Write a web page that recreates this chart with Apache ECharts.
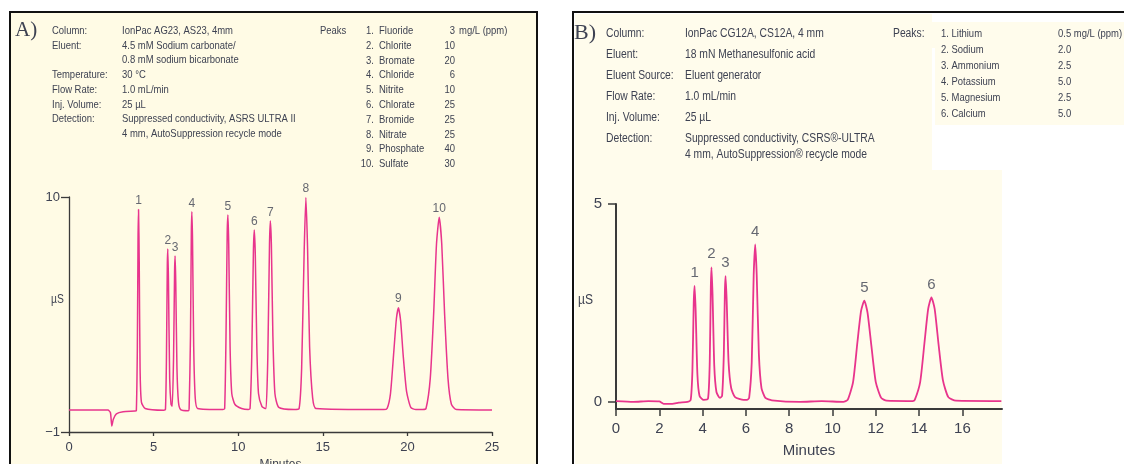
<!DOCTYPE html>
<html>
<head>
<meta charset="utf-8">
<script src="https://cdn.jsdelivr.net/npm/echarts@6/dist/echarts.min.js"></script>
<style>
html, body { margin: 0; padding: 0; background: #fff; }
#main { width: 1124px; height: 464px; }
</style>
</head>
<body>
<div id="main"></div>
<script>
// A) anions, IonPac AS23 - trace, [minutes, µS]
var traceA = [
  [0, 0.03], [2.3, 0.03], [2.45, -0.1], [2.53, -0.72], [2.62, -0.4], [2.8, -0.15], [3.2, -0.05], [3.9, -0.02],
  [3.98, 0], [4.04, 3.0], [4.08, 8.0], [4.11, 9.42], [4.15, 7.0], [4.2, 2.0], [4.28, 0.4], [4.5, 0.1], [5.6, 0.02],
  [5.7, 0.05], [5.76, 2.5], [5.81, 6.8], [5.84, 7.57], [5.88, 6.0], [5.95, 1.5], [6.03, 0.3],
  [6.1, 0.2], [6.18, 2.5], [6.24, 6.5], [6.27, 7.24], [6.31, 6.0], [6.38, 2.0], [6.47, 0.4], [6.6, 0.05], [7.05, 0],
  [7.1, 0.1], [7.18, 3.5], [7.23, 8.3], [7.26, 9.31], [7.3, 8.0], [7.37, 3.0], [7.46, 0.6], [7.6, 0.1], [9.1, 0.05],
  [9.2, 0.1], [9.28, 3.5], [9.35, 8.3], [9.39, 9.16], [9.44, 7.8], [9.52, 3.0], [9.62, 0.8], [9.8, 0.3], [10.2, 0.1], [10.6, 0.05],
  [10.7, 0.1], [10.8, 2.5], [10.9, 7.5], [10.95, 8.46], [11.01, 7.3], [11.1, 3.0], [11.2, 0.8], [11.4, 0.2], [11.6, 0.1],
  [11.65, 0.1], [11.75, 2.5], [11.85, 7.8], [11.9, 8.88], [11.96, 7.8], [12.05, 3.5], [12.17, 0.8], [12.4, 0.15], [13.3, 0.05],
  [13.6, 0.1], [13.75, 2.0], [13.9, 7.5], [14.0, 9.98], [14.1, 7.6], [14.22, 3.0], [14.4, 0.6], [14.6, 0.1], [18.6, 0.05],
  [18.8, 0.1], [19.0, 0.8], [19.2, 2.8], [19.35, 4.3], [19.47, 4.82], [19.6, 4.2], [19.75, 2.6], [19.95, 0.9], [20.2, 0.15], [20.5, 0.05], [20.9, 0.05],
  [21.1, 0.1], [21.35, 1.5], [21.55, 4.5], [21.72, 7.8], [21.88, 9.05], [22.03, 7.8], [22.2, 4.5], [22.4, 1.5], [22.6, 0.3], [22.9, 0.05], [25, 0.03]
];
var peakTimeA = [4.11, 5.84, 6.27, 7.26, 9.39, 10.95, 11.9, 14.0, 19.47, 21.88];
var peakHeightA = [9.42, 7.57, 7.24, 9.31, 9.16, 8.46, 8.88, 9.98, 4.82, 9.05];
var peakNameA = ['1', '2', '3', '4', '5', '6', '7', '8', '9', '10'];
var xTicksA = [0, 5, 10, 15, 20, 25];
var yTicksA = [-1, 10];

// B) cations, IonPac CS12A
var traceB = [
  [0, 0.02], [0.8, 0], [1.5, 0.02], [2.0, 0.01], [2.2, -0.05], [2.6, -0.05], [2.9, -0.02], [3.3, 0],
  [3.45, 0.05], [3.53, 0.8], [3.59, 2.5], [3.63, 2.93], [3.68, 2.3], [3.76, 0.7], [3.86, 0.15], [4.05, 0.05],
  [4.25, 0.08], [4.33, 1.0], [4.38, 2.9], [4.41, 3.4], [4.46, 2.7], [4.54, 0.9], [4.64, 0.25], [4.8, 0.1],
  [4.9, 0.15], [4.98, 1.2], [5.03, 2.8], [5.06, 3.18], [5.11, 2.6], [5.2, 1.0], [5.32, 0.35], [5.5, 0.12], [5.9, 0.05], [6.05, 0.05],
  [6.15, 0.1], [6.27, 1.0], [6.36, 3.2], [6.43, 3.98], [6.5, 3.2], [6.6, 1.2], [6.72, 0.35], [6.9, 0.1], [7.2, 0.04],
  [8.5, 0], [9.5, 0.02], [10.5, 0],
  [10.7, 0.05], [10.95, 0.5], [11.15, 1.5], [11.32, 2.3], [11.47, 2.56], [11.62, 2.25], [11.8, 1.4], [12.0, 0.5], [12.25, 0.1], [12.5, 0.03], [13.7, 0.02],
  [13.8, 0.05], [14.05, 0.5], [14.25, 1.5], [14.42, 2.35], [14.57, 2.64], [14.72, 2.35], [14.9, 1.45], [15.1, 0.55], [15.35, 0.12], [15.7, 0.03], [17.8, 0.02]
];
var peakTimeB = [3.63, 4.41, 5.06, 6.43, 11.47, 14.57];
var peakHeightB = [2.93, 3.4, 3.18, 3.98, 2.56, 2.64];
var peakNameB = ['1', '2', '3', '4', '5', '6'];
var xTicksB = [0, 2, 4, 6, 8, 10, 12, 14, 16];
var yTicksB = [0, 5];

// header text
var infoA = [
  ['Column:', 'IonPac AG23, AS23, 4mm'],
  ['Eluent:', '4.5 mM Sodium carbonate/'],
  ['', '0.8 mM sodium bicarbonate'],
  ['Temperature:', '30 °C'],
  ['Flow Rate:', '1.0 mL/min'],
  ['Inj. Volume:', '25 µL'],
  ['Detection:', 'Suppressed conductivity, ASRS ULTRA II'],
  ['', '4 mm, AutoSuppression recycle mode']
];
var peakListA = [
  ['1.', 'Fluoride', '3'], ['2.', 'Chlorite', '10'], ['3.', 'Bromate', '20'], ['4.', 'Chloride', '6'],
  ['5.', 'Nitrite', '10'], ['6.', 'Chlorate', '25'], ['7.', 'Bromide', '25'], ['8.', 'Nitrate', '25'],
  ['9.', 'Phosphate', '40'], ['10.', 'Sulfate', '30']
];
var infoB = [
  ['Column:', 'IonPac CG12A, CS12A, 4 mm'],
  ['Eluent:', '18 mN Methanesulfonic acid'],
  ['Eluent Source:', 'Eluent generator'],
  ['Flow Rate:', '1.0 mL/min'],
  ['Inj. Volume:', '25 µL'],
  ['Detection:', 'Suppressed conductivity, CSRS®-ULTRA'],
  ['', '4 mm, AutoSuppression® recycle mode']
];
var peakListB = [
  ['1. Lithium', '0.5 mg/L (ppm)'], ['2. Sodium', '2.0'], ['3. Ammonium', '2.5'],
  ['4. Potassium', '5.0'], ['5. Magnesium', '2.5'], ['6. Calcium', '5.0']
];

var FONT = '"Liberation Sans", Arial, sans-serif';
var SERIF = '"Liberation Serif", "DejaVu Serif", serif';
var TEXT = '#3e4252';
var AXIS = '#3a3a3a';
var PINK = '#e8348c';

// condensed look: squeeze the sans text horizontally
function txt(x, y, s, size, align, family, sx) {
  return {
    type: 'text', x: x, y: y, z: 10, scaleX: sx || 0.86,
    style: { text: s, fontSize: size, fontFamily: family || FONT, fill: TEXT, align: align || 'left', verticalAlign: 'middle' }
  };
}

var els = [
  { type: 'rect', z: -100, shape: { x: 10, y: 12, width: 527, height: 470 }, style: { fill: '#fffbe5', stroke: '#111', lineWidth: 2 } },
  { type: 'rect', z: -100, shape: { x: 573, y: 12, width: 600, height: 470 }, style: { fill: '#fff', stroke: '#111', lineWidth: 2 } },
  { type: 'rect', z: -99, shape: { x: 575, y: 14, width: 357, height: 160 }, style: { fill: '#fffcec' } },
  { type: 'rect', z: -99, shape: { x: 575, y: 170, width: 427, height: 300 }, style: { fill: '#fffcec' } },
  { type: 'rect', z: -99, shape: { x: 888, y: 22, width: 240, height: 26 }, style: { fill: '#fffcec' } },
  { type: 'rect', z: -99, shape: { x: 935, y: 22, width: 190, height: 103 }, style: { fill: '#fffcec' } },
  txt(15, 30, 'A)', 21, 'left', SERIF, 1),
  txt(574, 33, 'B)', 22, 'left', SERIF, 1),
  txt(320, 31, 'Peaks', 11),
  txt(893, 34, 'Peaks:', 12),
  txt(51, 300, 'µS', 12),
  txt(578, 300, 'µS', 14)
];
infoA.forEach(function (r, i) {
  var y = 31 + i * 14.7;
  if (r[0]) els.push(txt(52, y, r[0], 11));
  els.push(txt(122, y, r[1], 11));
});
peakListA.forEach(function (r, i) {
  var y = 31 + i * 14.8;
  els.push(txt(374, y, r[0], 11, 'right'));
  els.push(txt(379, y, r[1], 11));
  els.push(txt(455, y, r[2], 11, 'right'));
});
els.push(txt(459, 31, 'mg/L (ppm)', 11));
var rowB = [34, 55, 76, 97, 118, 139, 155];
infoB.forEach(function (r, i) {
  if (r[0]) els.push(txt(606, rowB[i], r[0], 12));
  els.push(txt(685, rowB[i], r[1], 12));
});
peakListB.forEach(function (r, i) {
  var y = 34 + i * 15.9;
  els.push(txt(941, y, r[0], 11));
  els.push(txt(1058, y, r[1], 11));
});

function labelSeries(times, heights, names, xi, size, dist) {
  return {
    type: 'scatter', xAxisIndex: xi, yAxisIndex: xi, symbolSize: 1, silent: true, z: 4,
    itemStyle: { color: 'rgba(0,0,0,0)' },
    label: { show: true, position: 'top', distance: dist, formatter: '{b}', fontSize: size, fontFamily: FONT, color: TEXT },
    data: times.map(function (t, i) { return { name: names[i], value: [t, heights[i]] }; })
  };
}

function fmt(v) { return v < 0 ? '\u2212' + Math.abs(v) : String(v); }

var chart = echarts.init(document.getElementById('main'));
chart.setOption({
  animation: false,
  graphic: { elements: els },
  grid: [
    { left: 69, top: 197, width: 423, height: 235, outerBoundsMode: 'none' },
    { left: 616, top: 204, width: 386, height: 205, outerBoundsMode: 'none' }
  ],
  xAxis: [
    {
      gridIndex: 0, type: 'value', min: 0, max: 25, interval: 5,
      axisLine: { onZero: false, lineStyle: { color: AXIS, width: 1.3 } },
      axisTick: { length: 4, lineStyle: { color: AXIS, width: 1.3 } },
      axisLabel: { margin: 9, fontSize: 13, fontFamily: FONT, color: TEXT, customValues: xTicksA },
      splitLine: { show: false },
      name: 'Minutes', nameLocation: 'middle', nameGap: 21,
      nameTextStyle: { fontSize: 12, fontFamily: FONT, color: TEXT }
    },
    {
      gridIndex: 1, type: 'value', min: 0, max: 17.83,
      axisLine: { onZero: false, lineStyle: { color: AXIS, width: 2 } },
      axisTick: { length: 7, customValues: xTicksB, lineStyle: { color: AXIS, width: 1.5 } },
      axisLabel: { margin: 12, fontSize: 15, fontFamily: FONT, color: TEXT, customValues: xTicksB },
      splitLine: { show: false },
      name: 'Minutes', nameLocation: 'middle', nameGap: 34,
      nameTextStyle: { fontSize: 15, fontFamily: FONT, color: TEXT }
    }
  ],
  yAxis: [
    {
      gridIndex: 0, type: 'value', min: -1, max: 10,
      axisLine: { show: true, onZero: false, lineStyle: { color: AXIS, width: 1.3 } },
      axisTick: { show: true, length: 8, customValues: yTicksA, lineStyle: { color: AXIS, width: 1.3 } },
      axisLabel: { margin: 9, fontSize: 13, fontFamily: FONT, color: TEXT, customValues: yTicksA, formatter: fmt },
      splitLine: { show: false }
    },
    {
      gridIndex: 1, type: 'value', min: -0.18, max: 5,
      axisLine: { show: true, onZero: false, lineStyle: { color: AXIS, width: 2 } },
      axisTick: { show: true, length: 8, customValues: yTicksB, lineStyle: { color: AXIS, width: 1.5 } },
      axisLabel: { margin: 14, fontSize: 15, fontFamily: FONT, color: TEXT, customValues: yTicksB },
      splitLine: { show: false }
    }
  ],
  series: [
    {
      type: 'line', xAxisIndex: 0, yAxisIndex: 0, data: traceA, showSymbol: false,
      smooth: 0.2, lineStyle: { color: PINK, width: 1.5 }, z: 3
    },
    {
      type: 'line', xAxisIndex: 1, yAxisIndex: 1, data: traceB, showSymbol: false,
      smooth: 0.2, lineStyle: { color: PINK, width: 1.8 }, z: 3
    },
    labelSeries(peakTimeA, peakHeightA, peakNameA, 0, 12, 2),
    labelSeries(peakTimeB, peakHeightB, peakNameB, 1, 15, 5)
  ]
});
</script>
</body>
</html>
